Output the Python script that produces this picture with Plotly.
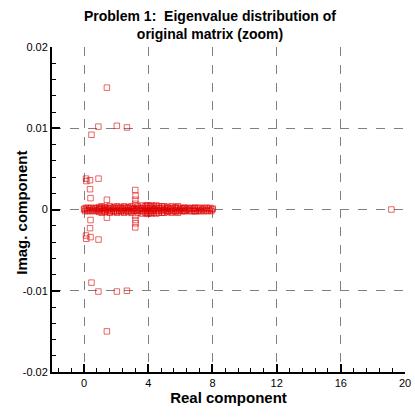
import plotly.graph_objects as go

# eigenvalues on / right next to the real axis; the dense band between 0 and 8
band_re = [0.00, 0.03, 0.07, 0.12, 0.18, 0.23, 0.27, 0.33, 0.38, 0.44, 0.49, 0.55, 0.61, 0.66,
           0.72, 0.77, 0.83, 0.88, 0.94, 0.99,
           1.05, 1.11, 1.16, 1.22, 1.27, 1.33, 1.39, 1.44, 1.50, 1.56, 1.62, 1.67, 1.73, 1.78,
           1.84, 1.90, 1.95,
           2.01, 2.07, 2.13, 2.19, 2.24, 2.30, 2.36, 2.41, 2.47, 2.53, 2.58, 2.64, 2.70, 2.76,
           2.81, 2.87, 2.93, 2.98,
           3.04, 3.10, 3.15, 3.21, 3.26, 3.32, 3.38, 3.43, 3.49, 3.55, 3.61, 3.66, 3.72, 3.77,
           3.83, 3.89, 3.94,
           4.00, 4.06, 4.11, 4.17, 4.23, 4.28, 4.34, 4.40, 4.46, 4.51, 4.57, 4.62, 4.68, 4.74,
           4.80, 4.85, 4.91, 4.97,
           5.02, 5.08, 5.14, 5.20, 5.25, 5.31, 5.37, 5.42, 5.48, 5.54, 5.59, 5.65, 5.71, 5.76,
           5.82, 5.88, 5.94, 5.99,
           6.05, 6.11, 6.16, 6.22, 6.28, 6.33, 6.39, 6.45, 6.51, 6.56, 6.62, 6.68, 6.73, 6.79,
           6.85, 6.90, 6.96,
           7.02, 7.08, 7.13, 7.19, 7.25, 7.30, 7.36, 7.42, 7.47, 7.53, 7.59, 7.64, 7.70, 7.76,
           7.81, 7.87, 7.93, 7.98, 8.02,
           19.15]
band_im = [0.0, 0.0001, -0.0002, 0.0002, -0.0001, 0.0002, -0.0002, 0.0001, -0.0001, 0.0002,
           -0.0002, 0.0, 0.0002, -0.0002, 0.0001, -0.0001, 0.0002, -0.0002, 0.0, 0.0001,
           0.0002, -0.0002, 0.0001, -0.0001, 0.0002, -0.0002, 0.0, 0.0002, -0.0001, 0.0001,
           -0.0002, 0.0002, -0.0002, 0.0001, -0.0001, 0.0002, -0.0002,
           0.0001, -0.0002, 0.0002, -0.0001, 0.0002, -0.0002, 0.0, 0.0001, -0.0002, 0.0002,
           -0.0001, 0.0002, -0.0002, 0.0001, -0.0001, 0.0002, -0.0002, 0.0,
           0.0002, -0.0002, 0.0001, -0.0001, 0.0002, -0.0002, 0.0, 0.0002, -0.0001, 0.0001,
           -0.0002, 0.0002, -0.0002, 0.0001, -0.0001, 0.0002, -0.0002,
           0.0001, -0.0002, 0.0002, -0.0001, 0.0002, -0.0002, 0.0, 0.0001, -0.0002, 0.0002,
           -0.0001, 0.0002, -0.0002, 0.0001, -0.0001, 0.0002, -0.0002, 0.0,
           0.0002, -0.0001, 0.0001, -0.0002, 0.0002, -0.0002, 0.0, 0.0001, -0.0002, 0.0002,
           -0.0001, 0.0002, -0.0002, 0.0001, -0.0001, 0.0002, -0.0002, 0.0,
           0.0002, -0.0002, 0.0001, -0.0001, 0.0002, -0.0002, 0.0, 0.0002, -0.0001, 0.0001,
           -0.0002, 0.0002, -0.0002, 0.0001, -0.0001, 0.0002, -0.0002,
           0.0001, -0.0002, 0.0002, -0.0001, 0.0002, -0.0002, 0.0, 0.0001, -0.0002, 0.0002,
           -0.0001, 0.0002, -0.0002, 0.0001, -0.0001, 0.0002, -0.0002, 0.0, 0.0001,
           0.0]

# complex eigenvalues (conjugate pairs)
cplx_re = [1.42, 0.89, 2.04, 2.67, 0.46, 0.12, 0.14, 0.37, 0.90, 0.37, 0.40, 1.42,
           3.19, 3.21, 3.20, 3.20,
           1.42, 0.89, 2.04, 2.67, 0.46, 0.12, 0.14, 0.40, 0.90, 0.37, 0.40, 1.42,
           3.19, 3.21, 3.20, 3.20]
cplx_im = [0.0150, 0.0102, 0.0103, 0.0101, 0.0092, 0.0038, 0.0035, 0.0036, 0.0038, 0.0025, 0.0014, 0.0012,
           0.0024, 0.0017, 0.0012, 0.0007,
           -0.0150, -0.0101, -0.0101, -0.0100, -0.0090, -0.0032, -0.0036, -0.0034, -0.0037, -0.0023, -0.0013, -0.0010,
           -0.0022, -0.0017, -0.0013, -0.0008]

# pairs hugging the real axis
near_re = [0.95, 1.1, 1.3, 1.6, 1.85, 2.05, 2.3, 2.5, 2.75, 2.95, 3.35, 3.6, 3.8, 3.9,
           4.0, 4.1, 4.2, 4.35, 4.5, 4.65, 4.85, 5.0, 5.2, 5.45, 5.7, 5.85, 6.25, 6.9,
           0.95, 1.1, 1.3, 1.6, 1.85, 2.05, 2.3, 2.5, 2.75, 2.95, 3.35, 3.6, 3.8, 3.9,
           4.0, 4.1, 4.2, 4.35, 4.5, 4.65, 4.85, 5.0, 5.2, 5.45, 5.7, 5.85, 6.25, 6.9]
near_im = [0.0003, 0.0004, 0.0003, 0.0004, 0.0003, 0.0004, 0.0003, 0.0004, 0.0003, 0.0004,
           0.0004, 0.0005, 0.0004, 0.0005, 0.0005, 0.0004, 0.0005, 0.0004, 0.0005, 0.0004,
           0.0004, 0.0004, 0.0003, 0.0004, 0.0003, 0.0004, 0.0002, 0.0002,
           -0.0003, -0.0004, -0.0003, -0.0004, -0.0003, -0.0004, -0.0003, -0.0004, -0.0003, -0.0004,
           -0.0004, -0.0005, -0.0004, -0.0005, -0.0005, -0.0004, -0.0005, -0.0004, -0.0005, -0.0004,
           -0.0004, -0.0004, -0.0003, -0.0004, -0.0003, -0.0004, -0.0002, -0.0002]

x_ticks = [0, 4, 8, 12, 16, 20]
y_ticks = [-0.02, -0.01, 0, 0.01, 0.02]
y_labels = ["-0.02", "-0.01", "0", "0.01", "0.02"]

FONT = "Liberation Sans, Arial, Helvetica, sans-serif"
marker = dict(symbol="square-open", size=5.5, color="rgb(222,0,0)", opacity=0.6,
              line=dict(width=1, color="rgb(222,0,0)"))

fig = go.Figure()
for xs, ys in [(band_re, band_im), (near_re, near_im), (cplx_re, cplx_im)]:
    fig.add_trace(go.Scatter(x=xs, y=ys, mode="markers", marker=marker,
                             showlegend=False, hoverinfo="skip"))

axis_common = dict(
    showline=True, linecolor="black", linewidth=2, mirror=False, automargin=False,
    showgrid=True, gridcolor="#808080", gridwidth=1, griddash="dash",
    zeroline=False, ticks="inside", ticklen=8, tickwidth=2, tickcolor="black",
    tickfont=dict(family=FONT, size=11, color="black"),
)

fig.update_xaxes(
    range=[-2, 20], tickvals=x_ticks,
    minor=dict(tick0=0, dtick=0.8, ticks="inside", ticklen=4, tickwidth=1,
               tickcolor="black", showgrid=False),
    title=dict(text="<b>Real component</b>", font=dict(family=FONT, size=15, color="black"),
               standoff=0),
    **axis_common,
)
fig.update_yaxes(
    range=[-0.02, 0.02], tickvals=y_ticks, ticktext=y_labels,
    minor=dict(tick0=0, dtick=0.002, ticks="inside", ticklen=4, tickwidth=1,
               tickcolor="black", showgrid=False),
    **axis_common,
)

# y title sits closer to the tick labels than plotly's axis title allows
fig.add_annotation(text="<b>Imag. component</b>", textangle=-90,
                   xref="paper", x=-0.085, xanchor="center",
                   yref="paper", y=0.49, yanchor="middle", showarrow=False,
                   font=dict(family=FONT, size=15, color="black"))

fig.update_layout(
    width=415, height=417,
    margin=dict(l=52, r=10, t=47, b=45),
    paper_bgcolor="white", plot_bgcolor="white",
    title=dict(text="<b>Problem 1:  Eigenvalue distribution of<br>original matrix (zoom)</b>",
               x=0.506, xref="container", xanchor="center",
               y=0.949, yref="container", yanchor="top",
               font=dict(family=FONT, size=14, color="black")),
)

# drop the default 8px body margin so the figure fills the window exactly
fig.write_html("out.html", config={"displayModeBar": False},
               post_script="document.body.style.margin = '0px';")
